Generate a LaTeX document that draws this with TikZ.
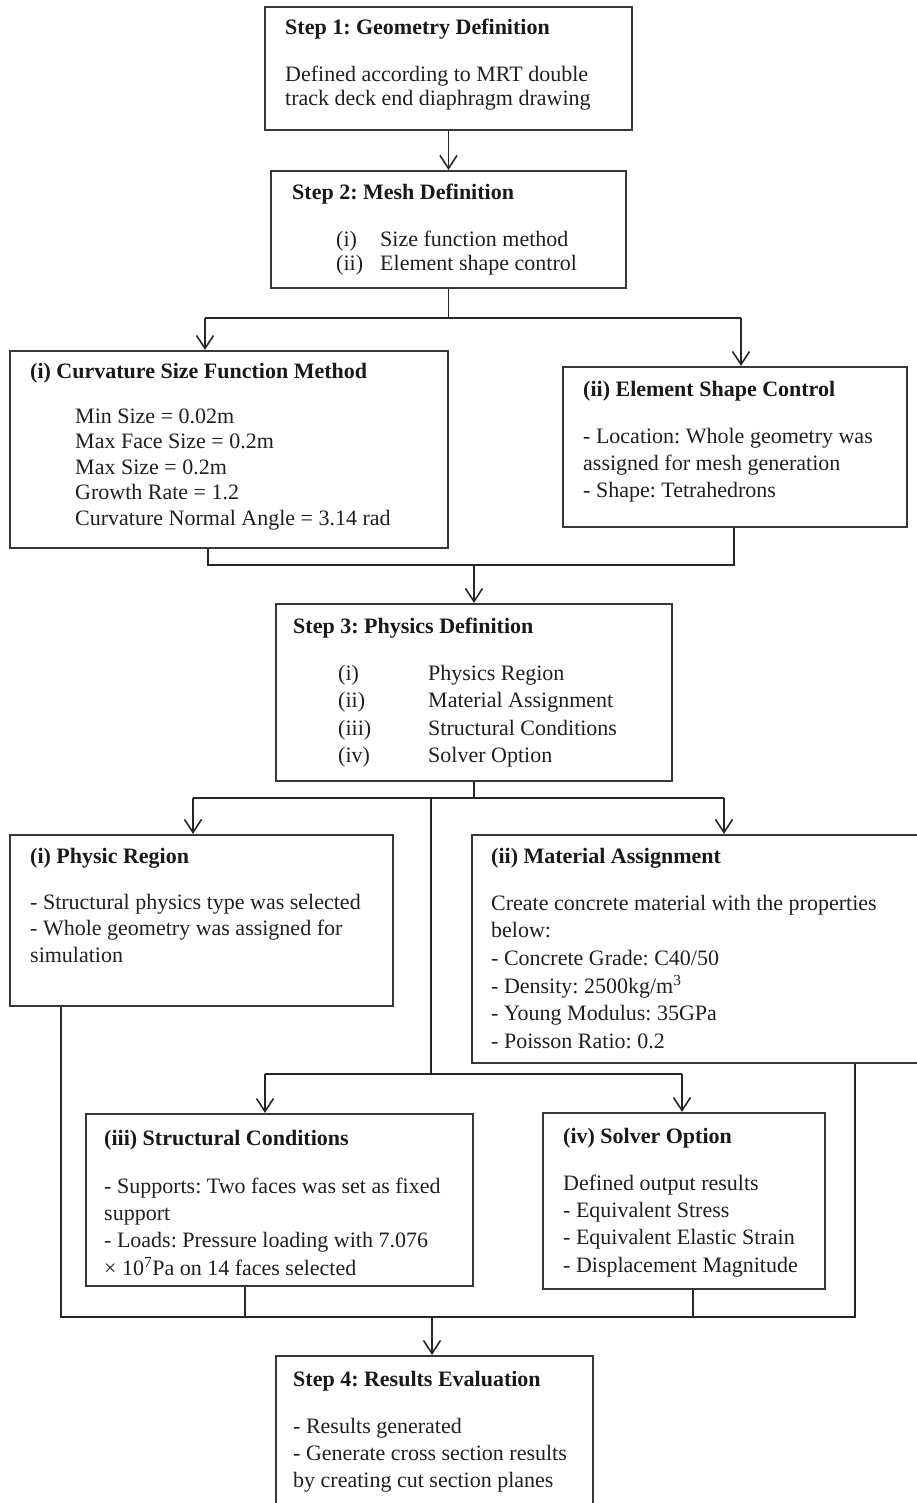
\documentclass[tikz,border=0pt]{standalone}
\usepackage{fontspec}
\setmainfont{Liberation Serif}
\usetikzlibrary{arrows.meta,calc}
\frenchspacing
\begin{document}
\begin{tikzpicture}[x=1pt,y=-1pt,
  box/.style={draw=black!78, line width=2.2pt, inner sep=0pt},
  conn/.style={draw=black!85, line width=1.6pt},
  arr/.style={conn, -{Straight Barb[length=13pt,width=17pt,line width=1.6pt]}},
  ttl/.style={anchor=base west, inner sep=0pt, font=\fontsize{22}{26}\selectfont\bfseries\frenchspacing, text=black!90},
  body/.style={anchor=north west, align=left, inner sep=0pt, font=\fontsize{22}{#1}\selectfont\frenchspacing, yshift={0.7*#1pt}, text=black!88},
]
\useasboundingbox (0,0) rectangle (917,1503);
\clip (0,0) rectangle (917,1503);

% boxes
\node[box, minimum width=367pt, minimum height=123pt] (s1) at (448.5,68.5) {};
\node[box, minimum width=355pt, minimum height=117pt] (s2) at (448.5,229.5) {};
\node[box, minimum width=438pt, minimum height=197pt] (c1) at (229,449.5) {};
\node[box, minimum width=344pt, minimum height=160pt] (c2) at (735,447) {};
\node[box, minimum width=396pt, minimum height=177pt] (s3) at (474,692.5) {};
\node[box, minimum width=383pt, minimum height=171pt] (p1) at (201.5,920.5) {};
\node[box, minimum width=458pt, minimum height=228pt] (p2) at (701,949) {};
\node[box, minimum width=387pt, minimum height=172pt] (p3) at (279.5,1200) {};
\node[box, minimum width=282pt, minimum height=176pt] (p4) at (684,1201) {};
\node[box, minimum width=317pt, minimum height=174pt] (s4) at (434.5,1443) {};

% texts
\node[ttl] (t1) at (285,35) {Step 1: Geometry Definition};
\node[body=24] (b1) at (285,81) {\strut Defined according to MRT double\\track deck end diaphragm drawing};

\node[ttl] (t2) at (292,200) {Step 2: Mesh Definition};
\node[body=24] (l2) at (336,246) {\strut(i)\\(ii)};
\node[body=24] (b2) at (380,246) {\strut Size function method\\Element shape control};

\node[ttl] (tc1) at (30,378) {(i) Curvature Size Function Method};
\node[body=25.5] (bc1) at (75,423) {\strut Min Size = 0.02m\\Max Face Size = 0.2m\\Max Size = 0.2m\\Growth Rate = 1.2\\Curvature Normal Angle = 3.14 rad};

\node[ttl] (tc2) at (583,396) {(ii) Element Shape Control};
\node[body=27] (bc2) at (583,443) {\strut - Location: Whole geometry was\\assigned for mesh generation\\- Shape: Tetrahedrons};

\node[ttl] (t3) at (293,633) {Step 3: Physics Definition};
\node[body=27.5] (l3) at (338,680) {\strut(i)\\(ii)\\(iii)\\(iv)};
\node[body=27.5] (b3) at (428,680) {\strut Physics Region\\Material Assignment\\Structural Conditions\\Solver Option};

\node[ttl] (tp1) at (30,863) {(i) Physic Region};
\node[body=26.5] (bp1) at (30,909) {\strut - Structural physics type was selected\\- Whole geometry was assigned for\\simulation};

\node[ttl] (tp2) at (491,863) {(ii) Material Assignment};
\node[body=27.6] (bp2) at (491,910) {\strut Create concrete material with the properties\\below:\\- Concrete Grade: C40/50\\- Density: 2500kg/m\textsuperscript{3}\\- Young Modulus: 35GPa\\- Poisson Ratio: 0.2};

\node[ttl] (tp3) at (104,1145) {(iii) Structural Conditions};
\node[body=27.3] (bp3) at (104,1193) {\strut - Supports: Two faces was set as fixed\\support\\- Loads: Pressure loading with 7.076\\× 10\textsuperscript{7}Pa on 14 faces selected};

\node[ttl] (tp4) at (563,1143) {(iv) Solver Option};
\node[body=27.3] (bp4) at (563,1190) {\strut Defined output results\\- Equivalent Stress\\- Equivalent Elastic Strain\\- Displacement Magnitude};

\node[ttl] (t4) at (293,1386) {Step 4: Results Evaluation};
\node[body=27] (b4) at (293,1433) {\strut - Results generated\\- Generate cross section results\\by creating cut section planes};

% connectors
\draw[arr] (s1.south) -- (s2.north);

\coordinate (j1) at (448.5,318);
\coordinate (j1l) at (205,318);
\coordinate (j1r) at (741,318);
\draw[conn] (s2.south) -- (j1);
\draw[conn] (j1l) -- (j1r);
\draw[arr] (j1l) -- (j1l |- c1.north);
\draw[arr] (j1r) -- (j1r |- c2.north);

\coordinate (j2l) at (208,565);
\coordinate (j2r) at (734,565);
\coordinate (j2) at (474,565);
\draw[conn] (j2l |- c1.south) -- (j2l) -- (j2r) -- (j2r |- c2.south);
\draw[arr] (j2) -- (s3.north);

\coordinate (j3) at (474,798);
\coordinate (j3l) at (193,798);
\coordinate (j3r) at (724,798);
\coordinate (j3m) at (431,798);
\draw[conn] (s3.south) -- (j3);
\draw[conn] (j3l) -- (j3r);
\draw[arr] (j3l) -- (j3l |- p1.north);
\draw[arr] (j3r) -- (j3r |- p2.north);

\coordinate (j4m) at (431,1074);
\coordinate (j4l) at (265,1074);
\coordinate (j4r) at (682,1074);
\draw[conn] (j3m) -- (j4m);
\draw[conn] (j4l) -- (j4r);
\draw[arr] (j4l) -- (j4l |- p3.north);
\draw[arr] (j4r) -- (j4r |- p4.north);

\coordinate (k1) at (61,1317);
\coordinate (k2) at (245,1317);
\coordinate (k3) at (693,1317);
\coordinate (k4) at (855,1317);
\coordinate (k5) at (432,1317);
\draw[conn] (k1 |- p1.south) -- (k1) -- (k4) -- (k4 |- p2.south);
\draw[conn] (k2 |- p3.south) -- (k2);
\draw[conn] (k3 |- p4.south) -- (k3);
\draw[arr] (k5) -- (k5 |- s4.north);
\end{tikzpicture}
\end{document}
